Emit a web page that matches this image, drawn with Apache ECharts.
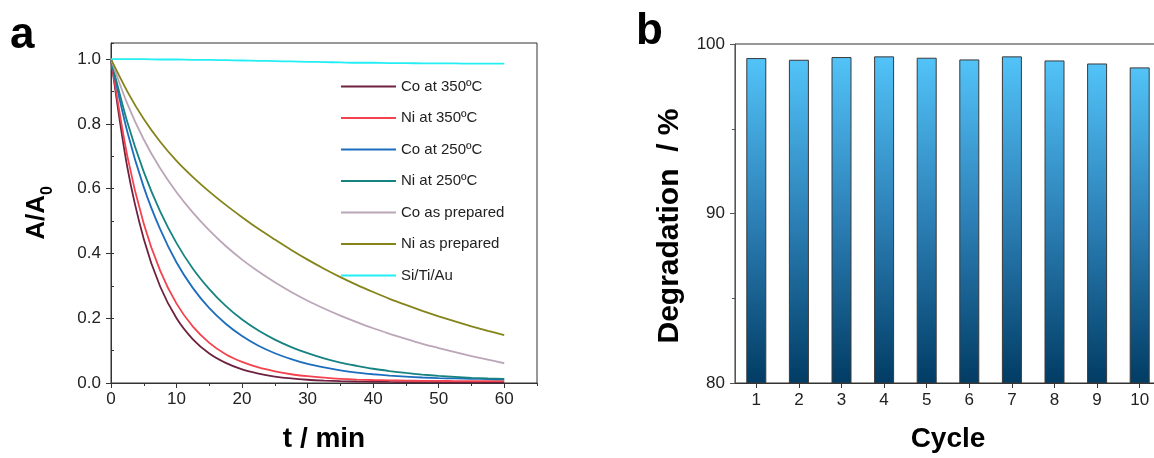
<!DOCTYPE html>
<html>
<head>
<meta charset="utf-8">
<script src="https://cdn.jsdelivr.net/npm/echarts@6/dist/echarts.min.js"></script>
<style>html,body{margin:0;padding:0;background:#fff;overflow:hidden;}#c{width:1162px;height:458px;}</style>
</head>
<body>
<div id="c"></div>
<script>
// ---- Panel a data (t in min, A/A0) ----
const tValues = [0, 2.5, 5, 7.5, 10, 12.5, 15, 17.5, 20, 22.5, 25, 27.5, 30, 32.5, 35, 37.5, 40, 42.5, 45, 47.5, 50, 52.5, 55, 57.5, 60];
const coAt350 = [1.0, 0.665, 0.445, 0.298, 0.2, 0.135, 0.091, 0.062, 0.042, 0.029, 0.02, 0.014, 0.01, 0.0075, 0.0058, 0.0046, 0.0038, 0.0032, 0.0028, 0.0025, 0.0023, 0.0021, 0.002, 0.002, 0.002];
const niAt350 = [1.0, 0.7, 0.492, 0.347, 0.245, 0.174, 0.124, 0.089, 0.065, 0.048, 0.036, 0.027, 0.021, 0.0165, 0.013, 0.0107, 0.0092, 0.0081, 0.0073, 0.0067, 0.0063, 0.006, 0.0058, 0.0056, 0.0055];
const coAt250 = [1.0, 0.775, 0.605, 0.475, 0.372, 0.293, 0.231, 0.183, 0.145, 0.115, 0.092, 0.074, 0.059, 0.048, 0.039, 0.032, 0.027, 0.023, 0.02, 0.017, 0.015, 0.014, 0.013, 0.012, 0.011];
const niAt250 = [1.0, 0.805, 0.652, 0.53, 0.432, 0.353, 0.29, 0.238, 0.196, 0.162, 0.134, 0.111, 0.092, 0.076, 0.063, 0.053, 0.044, 0.037, 0.031, 0.026, 0.022, 0.019, 0.016, 0.014, 0.013];
const coPrepared = [1.0, 0.862, 0.752, 0.663, 0.589, 0.526, 0.471, 0.423, 0.381, 0.344, 0.311, 0.281, 0.254, 0.23, 0.208, 0.188, 0.169, 0.152, 0.136, 0.121, 0.108, 0.095, 0.083, 0.072, 0.061];
const niPrepared = [1.0, 0.9, 0.815, 0.745, 0.686, 0.636, 0.591, 0.55, 0.512, 0.476, 0.443, 0.411, 0.381, 0.353, 0.327, 0.303, 0.281, 0.26, 0.241, 0.223, 0.206, 0.19, 0.175, 0.161, 0.148];
const siTiAu = [1.0, 1.0, 1.0, 0.999, 0.999, 0.998, 0.998, 0.997, 0.996, 0.995, 0.994, 0.993, 0.992, 0.991, 0.99, 0.989, 0.989, 0.988, 0.988, 0.987, 0.987, 0.987, 0.986, 0.986, 0.986];
const seriesNames = ['Co at 350ºC', 'Ni at 350ºC', 'Co at 250ºC', 'Ni at 250ºC', 'Co as prepared', 'Ni as prepared', 'Si/Ti/Au'];
const seriesColors = ['#6E2240', '#F2434E', '#1C6DBE', '#168380', '#BBA6B8', '#84841A', '#22EEF4'];
const yTicksA = [0, 0.2, 0.4, 0.6, 0.8, 1.0];

// ---- Panel b data ----
const cycles = ['1', '2', '3', '4', '5', '6', '7', '8', '9', '10'];
const degradation = [99.17, 99.07, 99.23, 99.27, 99.19, 99.09, 99.27, 99.03, 98.85, 98.62];

const FONT = '"Liberation Sans", Arial, sans-serif';
const allA = [coAt350, niAt350, coAt250, niAt250, coPrepared, niPrepared, siTiAu];

const chart = echarts.init(document.getElementById('c'), null, {renderer: 'canvas'});

const lineSeries = allA.map((arr, i) => ({
  name: seriesNames[i],
  type: 'line',
  xAxisIndex: 0,
  yAxisIndex: 0,
  data: tValues.map((t, j) => [t, arr[j]]),
  showSymbol: false,
  smooth: 0.3,
  lineStyle: {width: 1.8, color: seriesColors[i]},
  itemStyle: {color: seriesColors[i]},
  animation: false,
  z: 3
}));

const option = {
  animation: false,
  textStyle: {fontFamily: FONT},
  graphic: [
    {type: 'text', left: 10, top: 14, style: {text: 'a', font: 'bold 44px ' + FONT, fill: '#000'}},
    {type: 'text', left: 636, top: 10, style: {text: 'b', font: 'bold 44px ' + FONT, fill: '#000'}}
  ],
  grid: [
    {left: 111, top: 43, width: 426, height: 343, show: true, borderColor: '#333', borderWidth: 1, backgroundColor: 'transparent'},
    {left: 735, top: 44, width: 426, height: 343, show: true, borderColor: '#333', borderWidth: 1, backgroundColor: 'transparent'}
  ],
  legend: {
    left: 341, top: 78, orient: 'vertical', padding: 0,
    icon: 'rect', itemWidth: 55, itemHeight: 2, itemGap: 14.5,
    textStyle: {fontSize: 15, color: '#222', fontFamily: FONT, lineHeight: 17},
    data: seriesNames
  },
  xAxis: [
    {
      type: 'value', gridIndex: 0, min: 0, max: 65, interval: 10, position: 'bottom',
      name: 't / min', nameLocation: 'middle', nameGap: 42,
      nameTextStyle: {fontSize: 28, fontWeight: 'bold', color: '#000', fontFamily: FONT},
      axisLine: {show: true, lineStyle: {color: '#333', width: 1}},
      axisTick: {show: true, length: 5, lineStyle: {color: '#333'}},
      axisLabel: {fontSize: 17, color: '#222', margin: 8, showMaxLabel: false,
        formatter: v => (v % 10 === 0 ? String(v) : '')},
      splitLine: {show: false}
    },
    {
      type: 'value', gridIndex: 0, min: 0, max: 65, interval: 5, position: 'bottom',
      axisLine: {show: false},
      axisTick: {show: true, length: 3, lineStyle: {color: '#333'}},
      axisLabel: {show: false},
      splitLine: {show: false}
    },
    {
      type: 'category', gridIndex: 1, data: cycles, position: 'bottom',
      name: 'Cycle', nameLocation: 'middle', nameGap: 42,
      nameTextStyle: {fontSize: 28, fontWeight: 'bold', color: '#000', fontFamily: FONT},
      axisLine: {show: true, lineStyle: {color: '#333', width: 1}},
      axisTick: {show: true, alignWithLabel: true, length: 5, lineStyle: {color: '#333'}},
      axisLabel: {fontSize: 17, color: '#222', margin: 9},
      splitLine: {show: false}
    }
  ],
  yAxis: [
    {
      type: 'value', gridIndex: 0, min: 0, max: 1.05, interval: 0.2,
      name: 'A/A{sub|0}', nameLocation: 'middle', nameGap: 61, nameRotate: 90,
      nameTextStyle: {fontSize: 26, fontWeight: 'bold', color: '#000', fontFamily: FONT,
        rich: {sub: {fontSize: 16, fontWeight: 'bold', verticalAlign: 'bottom', padding: [0, 0, -6, 0], fontFamily: FONT}}},
      axisLine: {show: true, lineStyle: {color: '#333', width: 1}},
      axisTick: {show: true, length: 5, lineStyle: {color: '#333'}},
      axisLabel: {fontSize: 17, color: '#222', margin: 10, showMaxLabel: false,
        formatter: v => (yTicksA.some(t => Math.abs(t - v) < 1e-6) ? v.toFixed(1) : '')},
      splitLine: {show: false}
    },
    {
      type: 'value', gridIndex: 0, min: 0, max: 1.05, interval: 0.1,
      axisLine: {show: false},
      axisTick: {show: true, length: 3, lineStyle: {color: '#333'}},
      axisLabel: {show: false},
      splitLine: {show: false}
    },
    {
      type: 'value', gridIndex: 1, min: 80, max: 100, interval: 10,
      name: 'Degradation  / %   ', nameLocation: 'middle', nameGap: 50, nameRotate: 90,
      nameTextStyle: {fontSize: 30, fontWeight: 'bold', color: '#000', fontFamily: FONT},
      axisLine: {show: true, lineStyle: {color: '#555', width: 1}},
      axisTick: {show: true, length: 5, lineStyle: {color: '#555'}},
      minorTick: {show: true, splitNumber: 2, length: 3, lineStyle: {color: '#555'}},
      axisLabel: {fontSize: 17, color: '#222', margin: 10},
      splitLine: {show: false}
    }
  ],
  series: lineSeries.concat([
    {
      name: 'Degradation', type: 'bar', xAxisIndex: 2, yAxisIndex: 2,
      data: degradation, barWidth: 20,
      itemStyle: {
        color: new echarts.graphic.LinearGradient(0, 0, 0, 1, [
          {offset: 0, color: '#52C3F8'},
          {offset: 0.5, color: '#2C7FB5'},
          {offset: 1, color: '#013C64'}
        ]),
        borderColor: '#3a3a3a', borderWidth: 1
      },
      animation: false
    }
  ])
};
chart.setOption(option);
</script>
</body>
</html>
